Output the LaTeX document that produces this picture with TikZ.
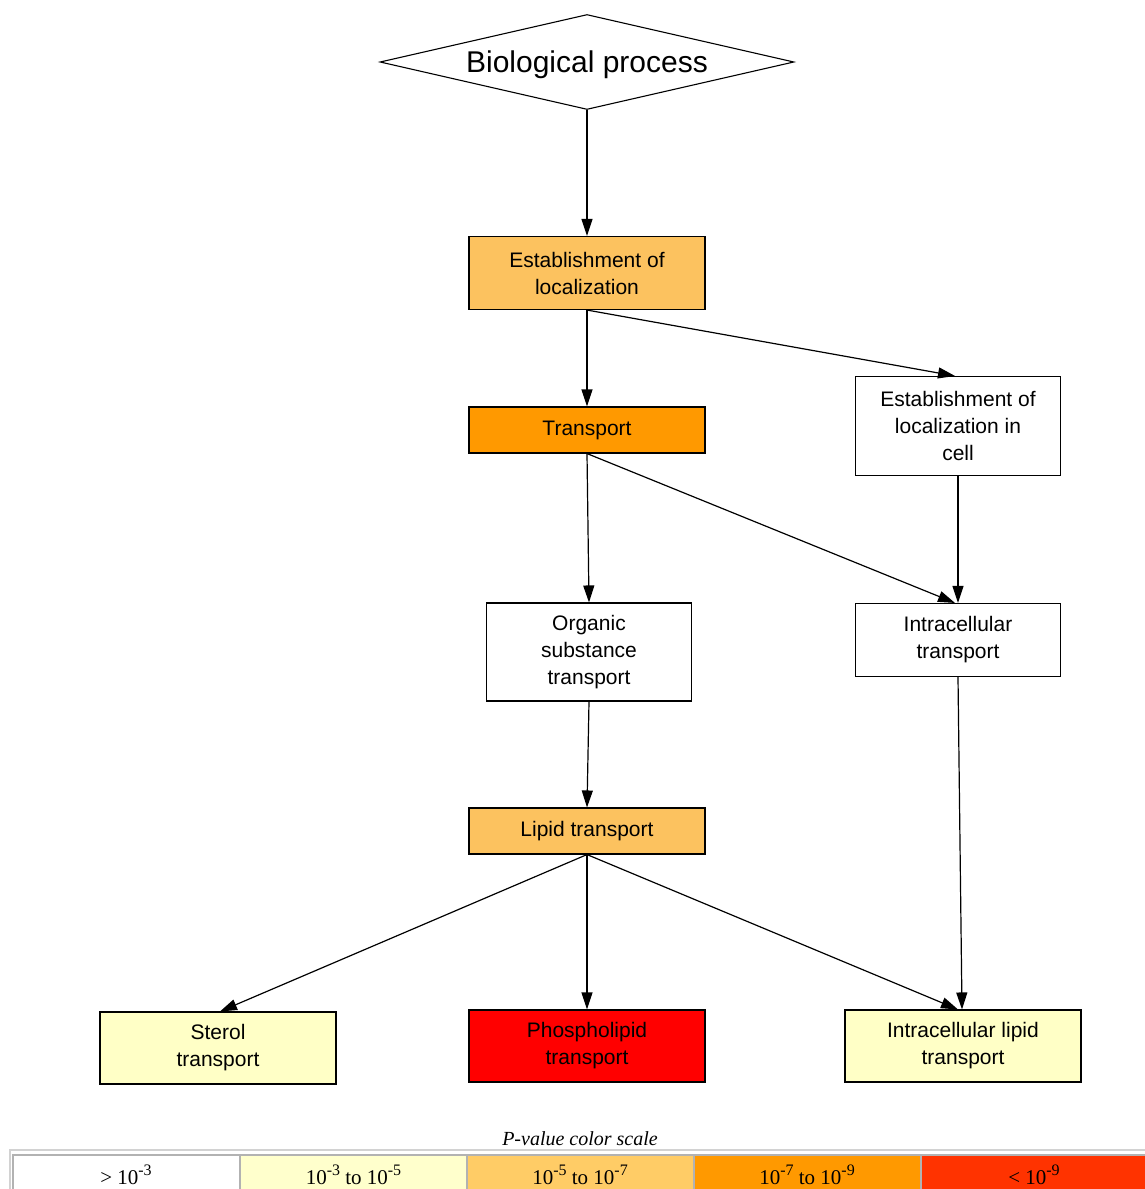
\documentclass[tikz,border=0pt]{standalone}
\usepackage{fontspec}
\setmainfont{Liberation Sans}
\newfontfamily\scalefont{Liberation Serif}
\usetikzlibrary{arrows.meta, positioning, shapes.geometric}

\definecolor{pnone}{HTML}{FFFFFF}
\definecolor{plow}{HTML}{FFFFC6}
\definecolor{pmid}{HTML}{FCC25F}
\definecolor{phigh}{HTML}{FF9900}
\definecolor{ptop}{HTML}{FF0000}
\definecolor{pscale}{HTML}{FF3300}
\definecolor{pscalemid}{HTML}{FFCC66}
\definecolor{pscalelow}{HTML}{FFFFCC}

\tikzset{
  goterm/.style={draw, line width=1.1pt, align=center, inner sep=0pt,
                 minimum width=236pt, minimum height=46pt,
                 font=\fontsize{21}{27}\selectfont},
  gonarrow/.style={goterm, minimum width=205pt},
  golink/.style={->, line width=1.2pt},
  scalecell/.style={draw=gray!60, line width=2pt, minimum width=227pt,
                    minimum height=40pt, inner sep=0pt,
                    font=\scalefont\fontsize{21}{24}\selectfont}
}
\newcommand{\pexp}[1]{\raisebox{0.45em}{\fontsize{16}{18}\selectfont#1}}

\begin{document}
\begin{tikzpicture}[x=1pt, y=-1pt, >={Triangle[length=17pt, width=11pt]}]
  \useasboundingbox (0,0) rectangle (1144,1189);

  % root
  \node[draw, diamond, line width=1.1pt, aspect=4.36, inner sep=0pt,
        minimum width=414pt, minimum height=95pt, text depth=0pt,
        font=\fontsize{30}{34}\selectfont] (bp) at (587,62)
    {Biological process};

  % terms
  \node[goterm, fill=pmid, minimum height=73pt] (estab) at (587,273)
    {Establishment of\\localization};
  \node[goterm, fill=phigh] (transp) at (587,430) {Transport};
  \node[gonarrow, fill=pnone, minimum height=99pt] (estabcell) at (958,426)
    {Establishment of\\localization in\\cell};
  \node[gonarrow, fill=pnone, minimum height=98pt] (organic) at (589,652)
    {Organic\\substance\\transport};
  \node[gonarrow, fill=pnone, minimum height=73pt] (intra) at (958,640)
    {Intracellular\\transport};
  \node[goterm, fill=pmid] (lipid) at (587,831) {Lipid transport};
  \node[goterm, fill=plow, minimum height=72pt] (sterol) at (218,1048)
    {Sterol\\transport};
  \node[goterm, fill=ptop, minimum height=72pt] (phospho) at (587,1046)
    {Phospholipid\\transport};
  \node[goterm, fill=plow, minimum height=72pt] (intralipid) at (963,1046)
    {Intracellular lipid\\transport};

  % links
  \draw[golink] (bp.south) -- (estab.north);
  \draw[golink] (estab.south) -- (transp.north);
  \draw[golink] (estab.south) -- ([xshift=-3pt]estabcell.north);
  \draw[golink] (transp.south) -- (organic.north);
  \draw[golink] (transp.south) -- ([xshift=-3pt]intra.north);
  \draw[golink] (estabcell.south) -- (intra.north);
  \draw[golink] (organic.south) -- (lipid.north);
  \draw[golink] (intra.south) -- ([xshift=-1pt]intralipid.north);
  \draw[golink] (lipid.south) -- ([xshift=2pt]sterol.north);
  \draw[golink] (lipid.south) -- (phospho.north);
  \draw[golink] (lipid.south) -- ([xshift=-5pt]intralipid.north);

  % p-value scale
  \node[font=\scalefont\itshape\fontsize{20}{22}\selectfont] (scaletitle)
    at (580,1139) {P-value color scale};
  \draw[gray!35, line width=1.5pt] (10,1200) |- (1160,1150);
  \foreach \i/\x/\c/\t in {1/126/pnone/{> 10\pexp{-3}},
      2/353.5/pscalelow/{10\pexp{-3} to 10\pexp{-5}},
      3/580/pscalemid/{10\pexp{-5} to 10\pexp{-7}},
      4/807/phigh/{10\pexp{-7} to 10\pexp{-9}},
      5/1034/pscale/{< 10\pexp{-9}}}
    \node[scalecell, fill=\c] (cell\i) at (\x,1175) {\t};
\end{tikzpicture}
\end{document}
